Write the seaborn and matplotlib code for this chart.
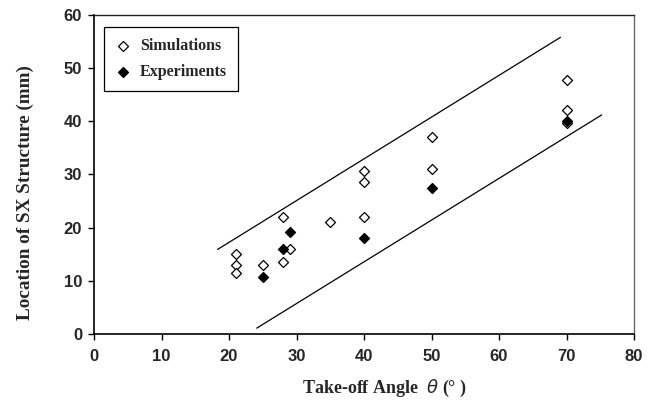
import matplotlib
matplotlib.use("Agg")
import matplotlib.pyplot as plt
import seaborn as sns
import pandas as pd

# Simulation results: take-off angle (deg) vs location of SX structure (mm)
sim_angle = [21, 21, 21, 25, 28, 28, 29, 35, 40, 40, 40, 50, 50, 70, 70, 70]
sim_location = [15.1, 13.0, 11.4, 13.0, 22.0, 13.6, 16.0, 21.0, 30.7, 28.6, 22.0, 37.0, 31.0, 47.7, 42.2, 39.6]

# Experimental measurements
exp_angle = [25, 28, 29, 40, 50, 70]
exp_location = [10.8, 15.9, 19.2, 18.0, 27.4, 40.0]

# Upper and lower bounding lines (endpoints)
upper_x = [18.3, 69.1]
upper_y = [15.9, 55.8]
lower_x = [24.1, 75.2]
lower_y = [1.1, 41.2]

sns.set_theme(style="white")
plt.rcParams["font.family"] = ["Liberation Sans", "DejaVu Sans"]

fig = plt.figure(figsize=(6.51, 4.05), dpi=100)
ax = fig.add_axes([0.1444, 0.1753, 0.8296, 0.7877])

sim_df = pd.DataFrame({"angle": sim_angle, "location": sim_location})
exp_df = pd.DataFrame({"angle": exp_angle, "location": exp_location})

sns.lineplot(x=upper_x, y=upper_y, ax=ax, color="black", linewidth=0.9, sort=False)
sns.lineplot(x=lower_x, y=lower_y, ax=ax, color="black", linewidth=0.9, sort=False)

sns.scatterplot(data=sim_df, x="angle", y="location", ax=ax, marker="D", s=26,
                facecolor="white", edgecolor="black", linewidth=0.9,
                label="Simulations", zorder=3)
sns.scatterplot(data=exp_df, x="angle", y="location", ax=ax, marker="D", s=26,
                color="black", edgecolor="black", linewidth=0.9,
                label="Experiments", zorder=4)

ax.set_xlim(0, 80)
ax.set_ylim(0, 60)
ax.set_xticks(range(0, 81, 10))
ax.set_yticks(range(0, 61, 10))
for lbl in ax.get_xticklabels() + ax.get_yticklabels():
    lbl.set_fontweight("bold")
    lbl.set_fontsize(12)

ax.tick_params(axis="both", direction="out", length=4.5, width=1, color="black",
               bottom=True, left=True)
ax.tick_params(axis="x", pad=6)
ax.tick_params(axis="y", pad=4)
for side in ["left", "bottom"]:
    ax.spines[side].set_color("black")
    ax.spines[side].set_linewidth(1.2)
ax.spines["top"].set_color("#222222")
ax.spines["top"].set_linewidth(1.0)
ax.spines["right"].set_color("#666666")
ax.spines["right"].set_linewidth(1.0)

ax.set_xlabel("")
ax.set_ylabel("Location of SX Structure (mm)", fontfamily="Liberation Serif",
              fontweight="bold", fontsize=13.8)
ax.yaxis.set_label_coords(-0.128, 0.442)
ax.yaxis.label.set_va("center")
fig.text(384.5 / 651, 1 - 388 / 405, r"Take-off Angle  $\theta$ (° )",
         ha="center", va="center",
         fontfamily="Liberation Serif", fontweight="bold", fontsize=13)

leg = ax.legend(loc="upper left", bbox_to_anchor=(0.0185, 0.962), frameon=True,
                fancybox=False, edgecolor="black", framealpha=1,
                prop={"family": "Liberation Serif", "weight": "bold", "size": 11.5},
                handletextpad=0.55, borderpad=0.7, labelspacing=0.6,
                handlelength=1.0, borderaxespad=0)
leg.get_frame().set_linewidth(0.9)

fig.savefig("out.png", dpi=100)
